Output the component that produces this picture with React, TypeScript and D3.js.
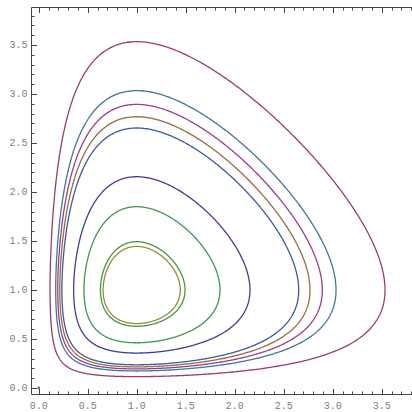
import React from "react";
import * as d3 from "d3";

// Height of each closed orbit where it crosses x = 1
const orbitTopY = [2.156, 3.534, 1.445, 1.85, 2.653, 2.894, 2.768, 1.493, 3.034];
const orbitColors = [
  "#3f3d99", "#993d71", "#998b3d", "#3d9956", "#3d5a99",
  "#993d90", "#996d3d", "#43993d", "#3d7999",
];
const majorTicks = [0, 0.5, 1, 1.5, 2, 2.5, 3, 3.5];
const tickLabels = ["0.0", "0.5", "1.0", "1.5", "2.0", "2.5", "3.0", "3.5"];
const minorTicks = d3.range(0, 39).map((i) => i / 10);

const W = 412;
const H = 412;

const g = (u: number) => u - Math.log(u) - 1;
const V = (x: number, y: number) => g(x) + g(y);

function orbitPoints(level: number): [number, number][] {
  const pts: [number, number][] = [];
  const n = 720;
  for (let i = 0; i < n; i++) {
    const t = (i / n) * Math.PI * 2;
    const c = Math.cos(t);
    const s = Math.sin(t);
    let hi = 20;
    if (c < 0) hi = Math.min(hi, 1 / -c);
    if (s < 0) hi = Math.min(hi, 1 / -s);
    hi *= 0.999999;
    let lo = 0;
    for (let k = 0; k < 80; k++) {
      const m = (lo + hi) / 2;
      if (V(1 + m * c, 1 + m * s) > level) hi = m;
      else lo = m;
    }
    const r = (lo + hi) / 2;
    pts.push([1 + r * c, 1 + r * s]);
  }
  return pts;
}

export default function App() {
  const x = d3.scaleLinear().domain([0, 3.5]).range([38.7, 38.7 + 3.5 * 98]);
  const y = d3.scaleLinear().domain([0, 3.5]).range([388, 388 - 3.5 * 98]);
  const left = 31.5;
  const bottom = 394.5;
  const top = 7.5;
  const right = 419.5;

  const line = d3
    .line<[number, number]>()
    .x((d) => x(d[0]))
    .y((d) => y(d[1]))
    .curve(d3.curveLinearClosed);

  const isMajor = (v: number) => Math.abs(v * 2 - Math.round(v * 2)) < 1e-9;
  const tickColor = "#444";
  const labelColor = "#7d7d88";

  return (
    <svg width={W} height={H} style={{ position: "absolute", left: 0, top: 0 }}>
      <rect x={0} y={0} width={W} height={H} fill="#fff" />
      <defs>
        <clipPath id="plotclip">
          <rect x={left} y={top} width={right - left} height={bottom - top} />
        </clipPath>
      </defs>
      <g clipPath="url(#plotclip)">
        {orbitTopY.map((ty, i) => (
          <path
            key={i}
            d={line(orbitPoints(g(ty))) || ""}
            fill="none"
            stroke={orbitColors[i]}
            strokeWidth={1.3}
          />
        ))}
        <circle cx={x(0)} cy={y(0)} r={1.4} fill="#3d7999" />
      </g>
      {/* frame */}
      <g stroke={tickColor} strokeWidth={1} fill="none">
        <line x1={left} y1={bottom} x2={W} y2={bottom} />
        <line x1={left} y1={top} x2={W} y2={top} />
        <line x1={left} y1={top} x2={left} y2={bottom} />
        {minorTicks.map((v) => {
          const len = isMajor(v) ? 5.5 : 3;
          const px = Math.round(x(v)) + 0.5;
          const py = Math.round(y(v)) + 0.5;
          return (
            <g key={v}>
              <line x1={px} y1={bottom} x2={px} y2={bottom - len} />
              <line x1={px} y1={top} x2={px} y2={top + len} />
              <line x1={left} y1={py} x2={left + len} y2={py} />
            </g>
          );
        })}
      </g>
      <g
        fontFamily="'Liberation Mono', 'DejaVu Sans Mono', monospace"
        fontSize={10}
        fill={labelColor}
      >
        {majorTicks.map((v, i) => (
          <text key={"x" + i} x={x(v)} y={409} textAnchor="middle">
            {tickLabels[i]}
          </text>
        ))}
        {majorTicks.map((v, i) => (
          <text
            key={"y" + i}
            x={27.5}
            y={y(v)}
            textAnchor="end"
            dominantBaseline="central"
          >
            {tickLabels[i]}
          </text>
        ))}
      </g>
    </svg>
  );
}
